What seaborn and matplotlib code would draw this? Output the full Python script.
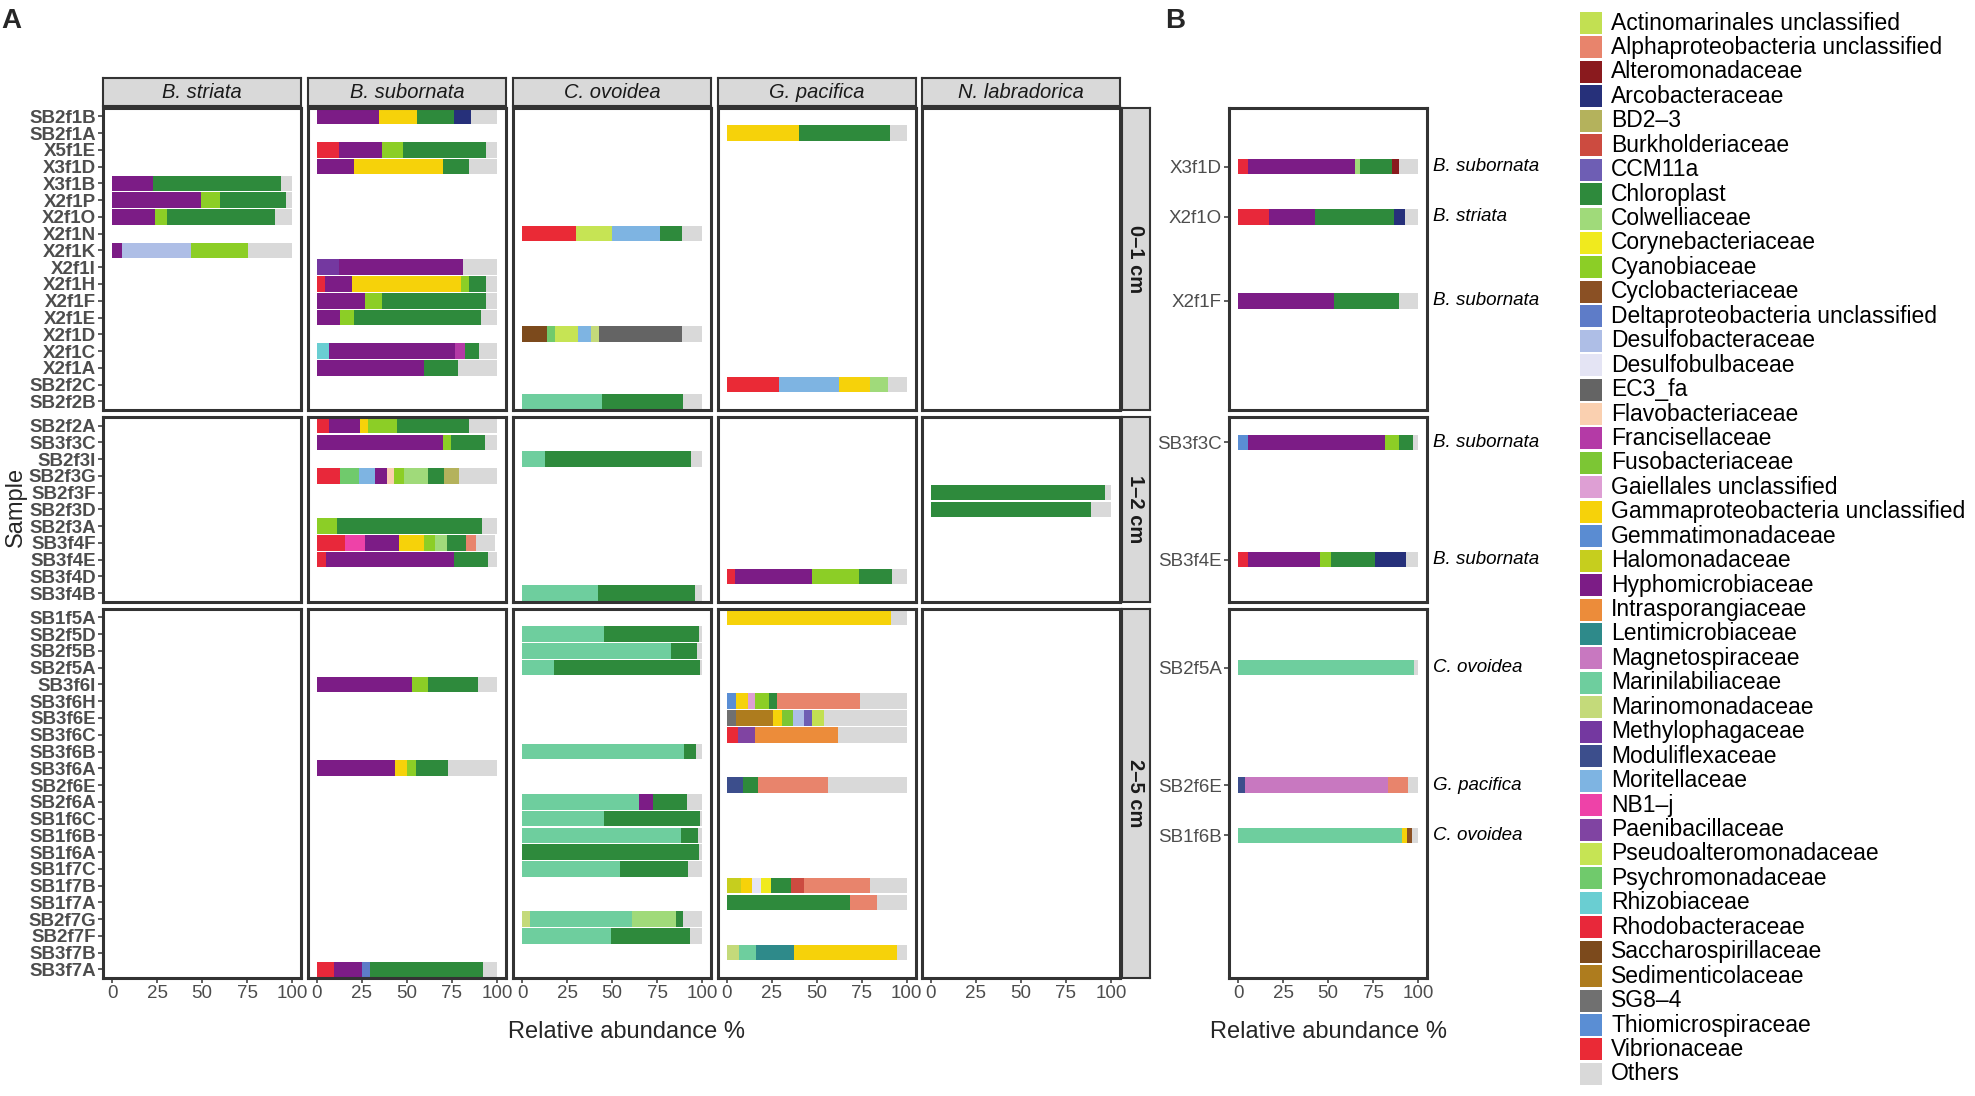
import numpy as np
import pandas as pd
import matplotlib.pyplot as plt
import seaborn as sns
from matplotlib.patches import Rectangle

# ---- legend / colour table (legend order) ----
family_codes = ["Act", "Alp", "Alt", "Arc", "BD2", "Bur", "CCM", "Chl", "Col", "Cor", "Cya", "Cyc",
                "Del", "Dsb", "Dsu", "EC3", "Fla", "Fra", "Fus", "Gai", "Gam", "Gem", "Hal", "Hyp",
                "Int", "Len", "Mag", "Mai", "Mao", "Met", "Mod", "Mor", "NB1", "Pae", "Pse", "Psy",
                "Rhi", "Rho", "Sac", "Sed", "SG8", "Thi", "Vib", "Oth"]
family_names = ["Actinomarinales unclassified", "Alphaproteobacteria unclassified", "Alteromonadaceae",
                "Arcobacteraceae", "BD2–3", "Burkholderiaceae", "CCM11a", "Chloroplast", "Colwelliaceae",
                "Corynebacteriaceae", "Cyanobiaceae", "Cyclobacteriaceae", "Deltaproteobacteria unclassified",
                "Desulfobacteraceae", "Desulfobulbaceae", "EC3_fa", "Flavobacteriaceae", "Francisellaceae",
                "Fusobacteriaceae", "Gaiellales unclassified", "Gammaproteobacteria unclassified",
                "Gemmatimonadaceae", "Halomonadaceae", "Hyphomicrobiaceae", "Intrasporangiaceae",
                "Lentimicrobiaceae", "Magnetospiraceae", "Marinilabiliaceae", "Marinomonadaceae",
                "Methylophagaceae", "Moduliflexaceae", "Moritellaceae", "NB1–j", "Paenibacillaceae",
                "Pseudoalteromonadaceae", "Psychromonadaceae", "Rhizobiaceae", "Rhodobacteraceae",
                "Saccharospirillaceae", "Sedimenticolaceae", "SG8–4", "Thiomicrospiraceae", "Vibrionaceae",
                "Others"]
family_colors = ["#C2E052", "#E8846C", "#8A1A1E", "#26307A", "#B4B25C", "#CC4B40", "#6E5EB4", "#2E8A3C",
                 "#A0DA7A", "#F0EA1E", "#8CCE26", "#8A5024", "#5E7CC8", "#AEBEE6", "#E4E4F4", "#646464",
                 "#FAD0B0", "#B43AA6", "#7CC634", "#DE9FD4", "#F6D20A", "#5A8CD2", "#C6CE1E", "#7C1C86",
                 "#EC8C3A", "#2E8A8A", "#C878C0", "#6ECE9E", "#C4DA7A", "#7438A0", "#3C4E8C", "#7EB4E2",
                 "#EE42A8", "#8044A2", "#C6E454", "#70CA6C", "#6ACED2", "#E8283A", "#7C4A1C", "#AE7C1E",
                 "#707070", "#5A8ED4", "#EA2A36", "#D9D9D9"]

hosts = ["B. striata", "B. subornata", "C. ovoidea", "G. pacifica", "N. labradorica"]
depths = ["0–1 cm", "1–2 cm", "2–5 cm"]

rows_0_1 = ["SB2f1B", "SB2f1A", "X5f1E", "X3f1D", "X3f1B", "X2f1P", "X2f1O", "X2f1N", "X2f1K", "X2f1I",
            "X2f1H", "X2f1F", "X2f1E", "X2f1D", "X2f1C", "X2f1A", "SB2f2C", "SB2f2B"]
rows_1_2 = ["SB2f2A", "SB3f3C", "SB2f3I", "SB2f3G", "SB2f3F", "SB2f3D", "SB2f3A", "SB3f4F", "SB3f4E",
            "SB3f4D", "SB3f4B"]
rows_2_5 = ["SB1f5A", "SB2f5D", "SB2f5B", "SB2f5A", "SB3f6I", "SB3f6H", "SB3f6E", "SB3f6C", "SB3f6B",
            "SB3f6A", "SB2f6E", "SB2f6A", "SB1f6C", "SB1f6B", "SB1f6A", "SB1f7C", "SB1f7B", "SB1f7A",
            "SB2f7G", "SB2f7F", "SB3f7B", "SB3f7A"]

# ---- panel A: one bar per sample, segments left to right ----
a_sample = ["SB2f1B", "SB2f1A", "X5f1E", "X3f1D", "X3f1B", "X2f1P", "X2f1O", "X2f1N", "X2f1K", "X2f1I",
            "X2f1H", "X2f1F", "X2f1E", "X2f1D", "X2f1C", "X2f1A", "SB2f2C", "SB2f2B",
            "SB2f2A", "SB3f3C", "SB2f3I", "SB2f3G", "SB2f3F", "SB2f3D", "SB2f3A", "SB3f4F", "SB3f4E",
            "SB3f4D", "SB3f4B",
            "SB1f5A", "SB2f5D", "SB2f5B", "SB2f5A", "SB3f6I", "SB3f6H", "SB3f6E", "SB3f6C", "SB3f6B",
            "SB3f6A", "SB2f6E", "SB2f6A", "SB1f6C", "SB1f6B", "SB1f6A", "SB1f7C", "SB1f7B", "SB1f7A",
            "SB2f7G", "SB2f7F", "SB3f7B", "SB3f7A"]
a_host = ["B. subornata", "G. pacifica", "B. subornata", "B. subornata", "B. striata", "B. striata",
          "B. striata", "C. ovoidea", "B. striata", "B. subornata", "B. subornata", "B. subornata",
          "B. subornata", "C. ovoidea", "B. subornata", "B. subornata", "G. pacifica", "C. ovoidea",
          "B. subornata", "B. subornata", "C. ovoidea", "B. subornata", "N. labradorica", "N. labradorica",
          "B. subornata", "B. subornata", "B. subornata", "G. pacifica", "C. ovoidea",
          "G. pacifica", "C. ovoidea", "C. ovoidea", "C. ovoidea", "B. subornata", "G. pacifica",
          "G. pacifica", "G. pacifica", "C. ovoidea", "B. subornata", "G. pacifica", "C. ovoidea",
          "C. ovoidea", "C. ovoidea", "C. ovoidea", "C. ovoidea", "G. pacifica", "G. pacifica",
          "C. ovoidea", "C. ovoidea", "G. pacifica", "B. subornata"]
a_taxa = [
    ["Hyp", "Gam", "Chl", "Arc", "Oth"],
    ["Gam", "Chl", "Oth"],
    ["Rho", "Hyp", "Cya", "Chl", "Oth"],
    ["Hyp", "Gam", "Chl", "Oth"],
    ["Hyp", "Chl", "Oth"],
    ["Hyp", "Cya", "Chl", "Oth"],
    ["Hyp", "Cya", "Chl", "Oth"],
    ["Vib", "Pse", "Mor", "Chl", "Oth"],
    ["Hyp", "Dsb", "Cya", "Oth"],
    ["Met", "Hyp", "Oth"],
    ["Rho", "Hyp", "Gam", "Cya", "Chl", "Oth"],
    ["Hyp", "Cya", "Chl", "Oth"],
    ["Hyp", "Cya", "Chl", "Oth"],
    ["Sac", "Psy", "Pse", "Mor", "Mao", "EC3", "Oth"],
    ["Rhi", "Hyp", "Fra", "Chl", "Oth"],
    ["Hyp", "Chl", "Oth"],
    ["Vib", "Mor", "Gam", "Col", "Oth"],
    ["Mai", "Chl", "Oth"],
    ["Rho", "Hyp", "Gam", "Cya", "Chl", "Oth"],
    ["Hyp", "Cya", "Chl", "Oth"],
    ["Mai", "Chl", "Oth"],
    ["Rho", "Psy", "Mor", "Hyp", "Fla", "Cya", "Col", "Chl", "BD2", "Oth"],
    ["Chl", "Oth"],
    ["Chl", "Oth"],
    ["Cya", "Chl", "Oth"],
    ["Rho", "NB1", "Hyp", "Gam", "Cya", "Col", "Chl", "Alp", "Oth"],
    ["Rho", "Hyp", "Chl", "Oth"],
    ["Rho", "Hyp", "Cya", "Chl", "Oth"],
    ["Mai", "Chl", "Oth"],
    ["Gam", "Oth"],
    ["Mai", "Chl", "Oth"],
    ["Mai", "Chl", "Oth"],
    ["Mai", "Chl", "Oth"],
    ["Hyp", "Cya", "Chl", "Oth"],
    ["Thi", "Gam", "Gai", "Cya", "Chl", "Alp", "Oth"],
    ["SG8", "Sed", "Gam", "Fus", "Dsb", "CCM", "Act", "Oth"],
    ["Vib", "Pae", "Int", "Oth"],
    ["Mai", "Chl", "Oth"],
    ["Hyp", "Gam", "Cya", "Chl", "Oth"],
    ["Mod", "Chl", "Alp", "Oth"],
    ["Mai", "Hyp", "Chl", "Oth"],
    ["Mai", "Chl", "Oth"],
    ["Mai", "Chl", "Oth"],
    ["Chl", "Oth"],
    ["Mai", "Chl", "Oth"],
    ["Hal", "Gam", "Dsu", "Cor", "Chl", "Bur", "Alp", "Oth"],
    ["Chl", "Alp", "Oth"],
    ["Mao", "Mai", "Col", "Chl", "Oth"],
    ["Mai", "Chl", "Oth"],
    ["Mao", "Mai", "Len", "Gam", "Oth"],
    ["Rho", "Hyp", "Del", "Chl", "Oth"],
]
a_pct = [
    [34.3, 21.4, 20.6, 9.2, 14.5],
    [40.1, 50.9, 9.0],
    [12.0, 23.9, 11.6, 46.4, 6.1],
    [20.4, 49.5, 14.5, 15.6],
    [22.8, 71.3, 5.9],
    [49.7, 10.3, 36.6, 3.4],
    [23.8, 6.8, 60.0, 9.4],
    [29.8, 20.2, 26.8, 12.2, 11.0],
    [5.5, 38.5, 31.3, 24.7],
    [12.2, 69.1, 18.7],
    [4.4, 15.3, 60.4, 4.2, 9.4, 6.3],
    [26.5, 9.4, 58.2, 5.9],
    [12.5, 7.9, 70.7, 8.9],
    [13.8, 4.8, 12.4, 7.3, 4.4, 46.1, 11.2],
    [6.6, 70.2, 5.2, 8.1, 9.9],
    [59.3, 19.3, 21.4],
    [28.9, 33.5, 17.4, 9.9, 10.3],
    [44.7, 44.7, 10.6],
    [6.6, 17.3, 4.4, 16.4, 39.8, 15.5],
    [69.8, 4.8, 18.8, 6.6],
    [12.8, 81.2, 6.0],
    [12.7, 10.7, 8.7, 6.6, 4.2, 5.5, 13.1, 8.8, 8.7, 21.0],
    [96.8, 3.2],
    [88.8, 11.2],
    [11.0, 80.7, 8.3],
    [15.5, 11.0, 19.0, 13.8, 6.3, 6.4, 11.0, 5.3, 10.7],
    [5.0, 71.3, 18.8, 4.9],
    [4.6, 42.7, 26.4, 18.3, 8.0],
    [42.4, 53.9, 3.7],
    [91.5, 8.5],
    [45.6, 52.8, 1.6],
    [82.8, 14.4, 2.8],
    [17.7, 81.4, 0.9],
    [53.0, 8.7, 27.8, 10.5],
    [5.5, 6.2, 4.4, 7.3, 4.4, 46.1, 26.1],
    [5.0, 21.1, 5.0, 5.7, 6.0, 4.6, 6.9, 45.7],
    [6.2, 9.9, 45.6, 38.3],
    [89.9, 6.9, 3.2],
    [43.6, 6.3, 5.2, 17.9, 27.0],
    [8.9, 8.7, 39.0, 43.4],
    [65.1, 7.6, 19.0, 8.3],
    [45.4, 53.4, 1.2],
    [88.5, 9.4, 2.1],
    [98.2, 1.8],
    [54.6, 37.6, 7.8],
    [8.0, 6.4, 4.8, 5.5, 11.2, 7.1, 36.9, 20.1],
    [68.6, 14.9, 16.5],
    [4.6, 56.4, 24.8, 3.7, 10.5],
    [49.3, 44.0, 6.7],
    [6.9, 9.6, 20.9, 57.1, 5.5],
    [9.4, 15.5, 4.4, 62.8, 7.9],
]

# ---- panel B ----
b_sample = ["X3f1D", "X2f1O", "X2f1F", "SB3f3C", "SB3f4E", "SB2f5A", "SB2f6E", "SB1f6B"]
b_host = ["B. subornata", "B. striata", "B. subornata", "B. subornata", "B. subornata",
          "C. ovoidea", "G. pacifica", "C. ovoidea"]
b_taxa = [
    ["Rho", "Hyp", "Col", "Chl", "Alt", "Oth"],
    ["Rho", "Hyp", "Chl", "Arc", "Oth"],
    ["Hyp", "Chl", "Oth"],
    ["Thi", "Hyp", "Cya", "Chl", "Oth"],
    ["Rho", "Hyp", "Cya", "Chl", "Arc", "Oth"],
    ["Mai", "Oth"],
    ["Mod", "Mag", "Alp", "Oth"],
    ["Mai", "Gam", "Cyc", "Oth"],
]
b_pct = [
    [5.7, 59.5, 2.6, 17.5, 4.2, 10.5],
    [17.1, 25.8, 44.0, 5.9, 7.2],
    [53.6, 35.9, 10.5],
    [5.7, 75.9, 7.7, 7.9, 2.8],
    [5.3, 40.0, 6.4, 24.5, 17.3, 6.5],
    [97.8, 2.2],
    [3.9, 79.6, 11.2, 5.3],
    [91.0, 2.8, 2.6, 3.6],
]


def long_table(samples, host_list, taxa, pct):
    recs = []
    for s, h, tx, pc in zip(samples, host_list, taxa, pct):
        for t, e in zip(tx, np.cumsum(pc)):
            recs.append((s, h, t, e))
    return pd.DataFrame(recs, columns=["sample", "host", "taxon", "end"])


bars_a = long_table(a_sample, a_host, a_taxa, a_pct)
bars_b = long_table(b_sample, b_host, b_taxa, b_pct)

palette = dict(zip(family_codes, family_colors))
# rightmost segment first, so shorter cumulative bars are laid on top
draw_order = ["Oth"] + [f for f in family_codes if f != "Oth"]

sns.set_theme(style="white")
plt.rcParams["font.family"] = ["Liberation Sans", "DejaVu Sans"]

W, H = 1975, 1096
fig = plt.figure(figsize=(W / 100, H / 100), dpi=100)


def box(x0, y0, x1, y1):
    return [x0 / W, 1 - y1 / H, (x1 - x0) / W, (y1 - y0) / H]


EDGE = "#333333"
TICKC = "#4D4D4D"


def draw_bars(ax, sub, rows):
    if len(sub):
        present = set(sub["taxon"])
        levels = [t for t in draw_order if t in present]
        sns.barplot(data=sub, x="end", y="sample", hue="taxon", order=rows, hue_order=levels,
                    palette=palette, dodge=False, width=0.93, orient="h", errorbar=None,
                    saturation=1, legend=False, linewidth=0, ax=ax)
    ax.set_xlim(-5, 105)
    ax.set_ylim(len(rows) - 0.5, -0.5)
    ax.set_xlabel("")
    ax.set_ylabel("")
    ax.set_facecolor("white")
    for s in ax.spines.values():
        s.set_visible(True)
        s.set_linewidth(2.2)
        s.set_color(EDGE)


def set_ticks(ax, ypos, ylabels, bottom, ybold=False):
    if ylabels:
        ax.set_yticks(ypos, ylabels)
        ax.tick_params(axis="y", left=True, length=3.5, width=1.1, color=EDGE, labelsize=13.5,
                       labelcolor=TICKC, pad=1.5)
        if ybold:
            for lab in ax.get_yticklabels():
                lab.set_fontweight("bold")
    else:
        ax.set_yticks([])
    if bottom:
        ax.set_xticks([0, 25, 50, 75, 100], ["0", "25", "50", "75", "100"])
        ax.tick_params(axis="x", bottom=True, length=3.5, width=1.1, color=EDGE, labelsize=13.5,
                       labelcolor=TICKC, pad=2)
    else:
        ax.set_xticks([])


def strip(ax, label, **kw):
    ax.set_xticks([])
    ax.set_yticks([])
    ax.set_facecolor("#D9D9D9")
    for s in ax.spines.values():
        s.set_visible(True)
        s.set_linewidth(1.5)
        s.set_color(EDGE)
    ax.text(0.5, 0.5, label, transform=ax.transAxes, ha="center", va="center", color="#1A1A1A", **kw)


depth_rows = [rows_0_1, rows_1_2, rows_2_5]
unit = 16.76
spans = []
y = 108
for rows in depth_rows:
    spans.append((y, y + len(rows) * unit))
    y += len(rows) * unit + 7.5

col_left = [103, 308, 513, 717.5, 922]
panel_w = 198

# ---- panel A facets ----
for r, rows in enumerate(depth_rows):
    y0, y1 = spans[r]
    for c, host in enumerate(hosts):
        x0 = col_left[c]
        ax = fig.add_axes(box(x0, y0, x0 + panel_w, y1))
        sub = bars_a[(bars_a["host"] == host) & (bars_a["sample"].isin(rows))]
        draw_bars(ax, sub, rows)
        if c == 0:
            set_ticks(ax, range(len(rows)), rows, r == 2, ybold=True)
        else:
            set_ticks(ax, [], None, r == 2)
    sax = fig.add_axes(box(1122, y0, 1150, y1))
    strip(sax, depths[r], rotation=270, fontsize=14.5, fontweight="bold")

for c, host in enumerate(hosts):
    sax = fig.add_axes(box(col_left[c], 78, col_left[c] + panel_w, 106))
    strip(sax, host, fontsize=14.5, style="italic")

# ---- panel B ----
for r, rows in enumerate(depth_rows):
    y0, y1 = spans[r]
    ax = fig.add_axes(box(1229, y0, 1427, y1))
    sub = bars_b[bars_b["sample"].isin(rows)]
    draw_bars(ax, sub, rows)
    shown = [s for s in rows if s in b_sample]
    set_ticks(ax, [rows.index(s) for s in shown], shown, r == 2)
    for s in shown:
        ax.text(1.03, rows.index(s), b_host[b_sample.index(s)], transform=ax.get_yaxis_transform(),
                ha="left", va="center", fontsize=13.5, style="italic", color="black")

# ---- titles ----
fig.text(627 / W, 1 - 1032 / H, "Relative abundance %", ha="center", va="center", fontsize=17)
fig.text(1328 / W, 1 - 1032 / H, "Relative abundance %", ha="center", va="center", fontsize=17)
fig.text(16 / W, 1 - 507 / H, "Sample", ha="center", va="center", rotation=90, fontsize=17)
fig.text(1 / W, 1 - 21 / H, "A", ha="left", va="center", fontsize=20, fontweight="bold")
fig.text(1165 / W, 1 - 21 / H, "B", ha="left", va="center", fontsize=20, fontweight="bold")

# ---- legend ----
lax = fig.add_axes(box(1570, 0, W, H))
lax.set_xlim(1570, W)
lax.set_ylim(H, 0)
lax.axis("off")
for i, (name, col) in enumerate(zip(family_names, family_colors)):
    yc = 23 + 24.44 * i
    lax.add_patch(Rectangle((1580, yc - 11), 22, 22, facecolor=col, edgecolor="none"))
    lax.text(1611, yc, name, ha="left", va="center", fontsize=16.5, color="black")

fig.savefig("out.png", dpi=100)
